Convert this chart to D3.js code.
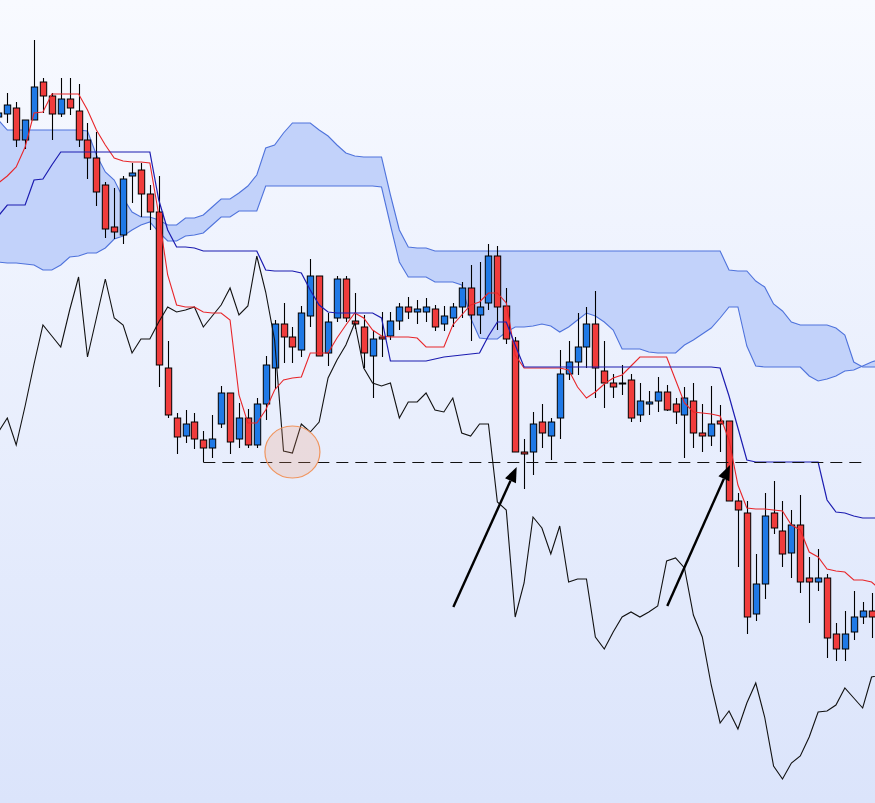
<!DOCTYPE html>
<html><head><meta charset="utf-8">
<script src="https://cdn.jsdelivr.net/npm/d3@7"></script>
<style>html,body{margin:0;padding:0;overflow:hidden;background:#fff}svg{display:block}</style>
</head><body>
<svg id="chart" width="875" height="803"></svg>
<script>
// bar index of the first entry in every series
const firstIndex = -1;

// OHLC prices, bars -1 .. 97
const opens = [883,
 886,892,860,880,918,904,886,901,889,860,
 842,815,773,765,824,830,806,788,632,582,
 564,578,560,552,576,607,561,582,555,596,
 632,676,663,650,684,724,647,682,721,679,
 673,644,663,664,679,693,688,688,691,676,
 682,693,712,685,697,744,694,659,548,548,
 578,564,582,626,638,653,676,629,617,617,
 620,585,596,599,608,596,585,599,567,564,
 579,579,499,487,386,416,487,469,447,475,
 422,418,422,366,351,368,383,389];
const highs = [895,
 907,898,880,960,922,907,922,922,916,877,
 868,818,812,824,837,837,815,824,659,587,
 590,587,569,585,614,607,597,591,602,644,
 680,697,673,694,741,724,687,724,724,707,
 685,670,688,688,697,703,700,702,695,694,
 697,718,735,738,756,754,712,663,561,588,
 596,582,650,659,687,693,709,659,626,635,
 626,617,609,623,615,602,613,617,596,614,
 595,579,507,499,446,507,519,499,490,505,
 443,451,426,377,389,409,398,407];
const lows = [878,
 877,853,851,880,887,860,883,885,853,821,
 794,762,761,756,797,783,770,613,582,546,
 557,551,538,542,572,546,552,552,552,580,
 611,637,637,643,673,644,634,678,678,671,
 632,602,643,660,670,681,676,678,669,669,
 673,682,659,666,690,670,656,548,511,525,
 552,540,561,620,625,632,602,592,602,605,
 578,578,585,588,589,576,542,552,548,554,
 548,499,433,366,379,401,466,433,422,407,
 377,409,342,339,339,360,376,362];
const closes = [887,
 895,860,880,913,904,886,901,892,860,842,
 808,771,768,821,827,806,788,635,585,563,
 576,561,552,561,607,558,582,555,596,635,
 676,663,653,687,724,644,678,721,682,676,
 647,661,661,679,693,688,691,693,673,684,
 693,712,685,693,744,693,661,548,546,576,
 567,578,626,638,653,676,632,617,613,617,
 582,599,598,608,590,588,602,567,564,576,
 576,499,490,383,416,484,472,446,475,418,
 418,422,362,351,366,383,389,383];

// Ichimoku lines, bars -1 .. 98
const tenkan = [817,
 824,833,853,887,888,906,906,906,906,890,
 870,855,842,839,838,838,837,785,725,695,
 693,693,688,687,687,680,605,577,577,590,
 610,620,622,623,647,647,647,662,675,687,
 682,670,664,663,663,663,662,653,653,653,
 675,685,695,698,707,707,697,645,632,632,
 632,632,632,630,613,602,608,616,622,625,
 634,643,643,643,643,620,597,588,587,586,
 584,560,515,492,491,491,490,489,475,470,
 448,443,431,429,428,420,420,418,410];
const kijun = [784,
 795,795,795,820,821,835,848,848,848,848,
 848,848,848,848,848,848,848,800,770,753,
 753,752,749,749,749,749,749,749,749,730,
 729,729,729,727,710,695,688,687,687,687,
 687,687,682,639,639,639,639,639,641,643,
 644,645,646,647,664,678,678,655,633,633,
 633,633,633,633,633,633,633,633,633,633,
 633,633,633,633,633,633,633,633,633,633,
 632,604,572,540,538,538,538,538,538,538,
 538,538,500,488,487,484,482,482,482];
const chikou = [568,
 582,555,594,636,675,664,653,690,723,643,
 682,721,682,675,647,661,661,678,693,688,
 690,693,673,684,695,712,685,694,744,708,
 660,549,547,576,568,578,622,640,655,677,
 632,617,614,617,582,598,598,607,590,588,
 602,567,564,576,576,498,490,383,417,483,
 472,446,474,418,421,421,363,351,368,383,
 388,383,388,394,439,442,432,385,363,315,
 277,289,271,297,317,283,234,221,237,244,
 263,288,289,295,312,302,292,323,325];
const spanA = [880,
 870,870,870,870,870,870,870,870,870,869,
 845,828,820,802,788,783,783,780,775,775,
 782,782,785,793,801,801,807,814,825,852,
 855,867,877,877,877,870,864,855,847,844,
 843,843,843,805,770,753,752,752,749,749,
 749,749,749,749,749,749,749,749,749,749,
 749,749,749,749,749,749,749,749,749,749,
 749,749,749,749,749,749,749,749,749,749,
 749,730,729,729,719,713,696,689,678,675,
 675,675,675,672,665,638,633,633,633];
const spanB = [738,
 737,737,736,735,730,730,735,743,744,747,
 747,752,761,764,770,775,778,768,759,759,
 764,765,767,775,783,783,789,789,789,814,
 814,814,814,814,814,814,814,814,814,814,
 814,814,813,775,738,723,723,723,718,718,
 718,715,682,662,661,661,668,673,673,674,
 676,674,668,673,680,687,684,678,670,651,
 651,651,648,647,647,647,655,660,666,672,
 682,693,693,654,634,633,633,633,633,633,
 624,619,621,624,629,630,634,638,641];

// annotations
const supportLevel = 538, supportFrom = 22, supportTo = 96.6;
const arrows = [
  {fromBar: 50.06, fromPrice: 393, toBar: 57.17, toPrice: 533},
  {fromBar: 74.07, fromPrice: 394, toBar: 81.11, toPrice: 535}
];
const highlight = {bar: 32.0, price: 548};

// ---------------------------------------------------------------
const W = 875, H = 803;
const svg = d3.select('#chart');
const defs = svg.append('defs');
const grad = defs.append('linearGradient').attr('id','bg')
  .attr('x1',0).attr('y1',0).attr('x2',0).attr('y2',1);
grad.append('stop').attr('offset','0%').attr('stop-color','#f8faff');
grad.append('stop').attr('offset','100%').attr('stop-color','#dbe4fb');
svg.append('rect').attr('width',W).attr('height',H).attr('fill','url(#bg)');

const x = d3.scaleLinear().domain([-1, 98]).range([-1.61, 880.49]);
const y = d3.scaleLinear().domain([197, 1000]).range([H, 0]);
const bx = i => x(i + firstIndex);

// cloud
const cloud = spanA.map((a, i) => ({i, a, b: spanB[i]}));
svg.append('path').datum(cloud)
  .attr('d', d3.area().x(d => bx(d.i)).y0(d => y(d.a)).y1(d => y(d.b)))
  .attr('fill', '#c2d2fa');
const lineOf = arr => d3.line().x((d, i) => bx(i)).y(d => y(d))(arr);
[spanA, spanB].forEach(s => svg.append('path').attr('d', lineOf(s))
  .attr('fill','none').attr('stroke','#4f73dc').attr('stroke-width',1.1));

// candles
const bodyW = 6.4;
const cg = svg.append('g');
opens.forEach((o, i) => {
  const c = closes[i], xc = Math.round(bx(i)) + 0.5;
  cg.append('line').attr('x1', xc).attr('x2', xc)
    .attr('y1', y(highs[i])).attr('y2', y(lows[i]))
    .attr('stroke', '#000').attr('stroke-width', 1.1);
  const top = y(Math.max(o, c)), bot = y(Math.min(o, c));
  cg.append('rect').attr('x', xc - bodyW / 2).attr('y', top)
    .attr('width', bodyW).attr('height', Math.max(bot - top, 1))
    .attr('fill', c < o ? '#f03c3c' : '#1f79e6')
    .attr('stroke', '#000').attr('stroke-width', 1);
});

// chikou, tenkan, kijun
svg.append('path').attr('d', lineOf(chikou)).attr('fill','none')
  .attr('stroke','#111').attr('stroke-width',1.1).attr('stroke-linejoin','miter');
svg.append('path').attr('d', lineOf(tenkan)).attr('fill','none')
  .attr('stroke','#e8262a').attr('stroke-width',1.1);
svg.append('path').attr('d', lineOf(kijun)).attr('fill','none')
  .attr('stroke','#1c1cb0').attr('stroke-width',1.2);

// support dashed line
svg.append('line')
  .attr('x1', bx(supportFrom - firstIndex)).attr('x2', bx(supportTo - firstIndex))
  .attr('y1', Math.round(y(supportLevel)) + 0.5).attr('y2', Math.round(y(supportLevel)) + 0.5)
  .attr('stroke','#111').attr('stroke-width',1.2).attr('stroke-dasharray','12,7');

// highlight ellipse
svg.append('ellipse')
  .attr('cx', bx(highlight.bar - firstIndex)).attr('cy', y(highlight.price))
  .attr('rx', 27.5).attr('ry', 26)
  .attr('fill','rgba(240,150,110,0.22)').attr('stroke','#f0955f').attr('stroke-width',1.2);

// arrows
arrows.forEach(a => {
  const x0 = bx(a.fromBar - firstIndex), y0 = y(a.fromPrice);
  const x1 = bx(a.toBar - firstIndex), y1 = y(a.toPrice);
  const ang = Math.atan2(y1 - y0, x1 - x0);
  const len = 15, half = 6;
  const bxp = x1 - len * Math.cos(ang), byp = y1 - len * Math.sin(ang);
  svg.append('line').attr('x1', x0).attr('y1', y0).attr('x2', bxp).attr('y2', byp)
    .attr('stroke','#000').attr('stroke-width',2.4);
  const px = -Math.sin(ang), py = Math.cos(ang);
  svg.append('path').attr('d', d3.line()([[x1, y1],
      [bxp + half * px, byp + half * py], [bxp - half * px, byp - half * py]]) + 'Z')
    .attr('fill','#000');
});
</script>
</body></html>
